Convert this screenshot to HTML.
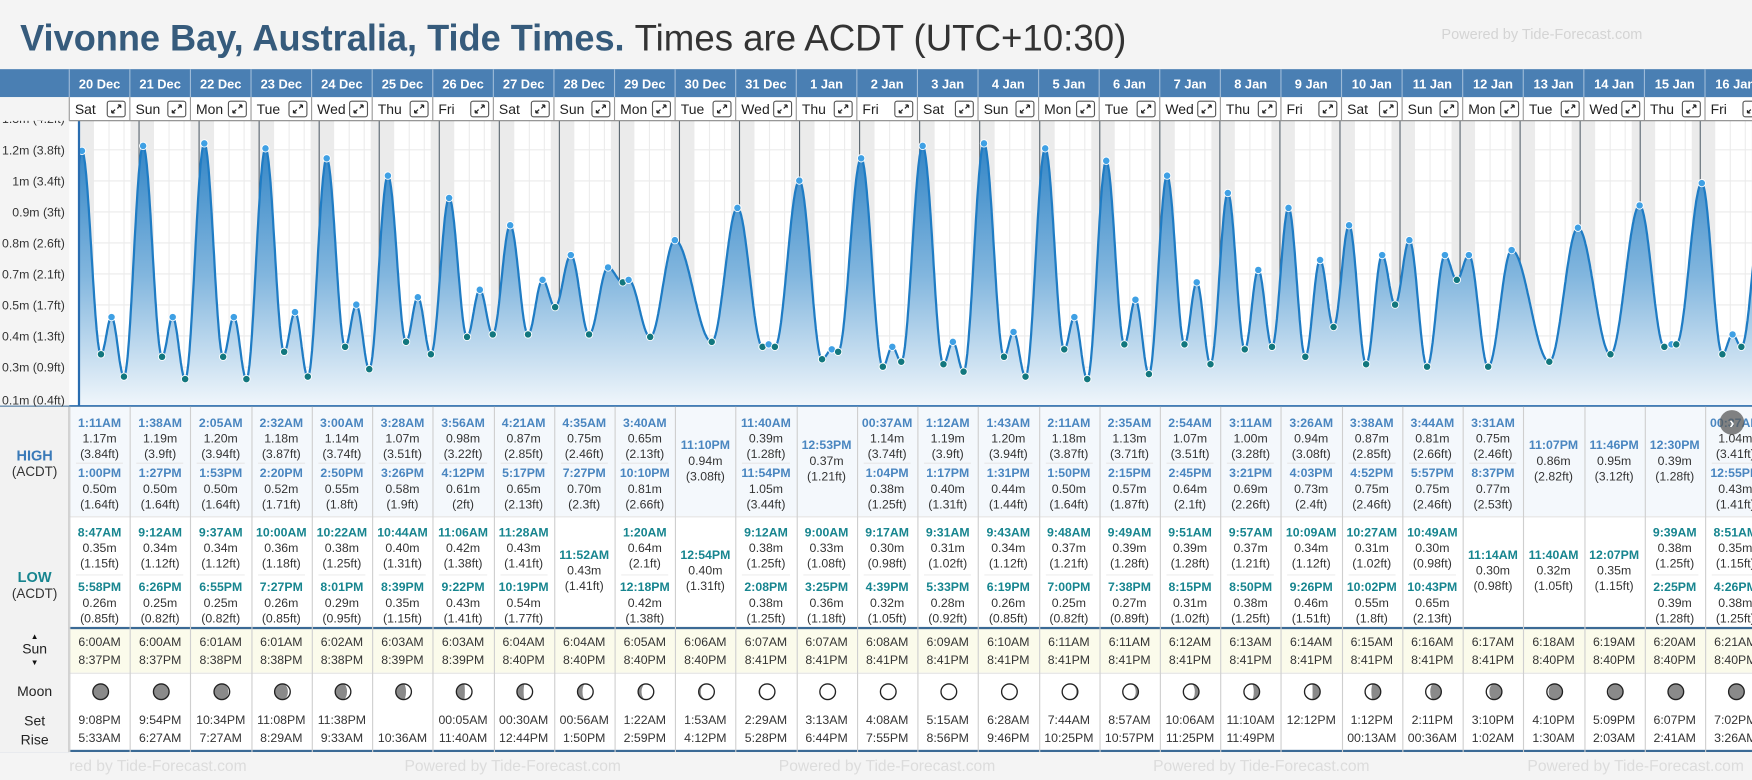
<!DOCTYPE html>
<html><head><meta charset="utf-8">
<style>
html,body{margin:0;padding:0;background:#f4f4f4;overflow:hidden;width:1752px;height:780px}
#root{position:absolute;left:0;top:0;width:1568px;height:698px;transform:scale(1.11735,1.1175);transform-origin:0 0;font-family:"Liberation Sans",sans-serif;color:#333;overflow:hidden;background:#f4f4f4}
.abs{position:absolute}
</style></head>
<body>
<div id="root">
<svg class="abs" style="left:0;top:0" width="1100" height="60">
<text x="18" y="45" font-family="Liberation Sans, sans-serif" font-weight="bold" font-size="33" fill="#365b7c" textLength="541" lengthAdjust="spacingAndGlyphs">Vivonne Bay, Australia, Tide Times.</text>
<text x="568" y="45" font-family="Liberation Sans, sans-serif" font-size="33" fill="#333" textLength="440" lengthAdjust="spacingAndGlyphs">Times are ACDT (UTC+10:30)</text>
</svg>
<div class="abs" style="left:1290px;top:23px;font-size:13px;color:#d4d4d4">Powered by Tide-Forecast.com</div>
<div class="abs" style="left:0;top:62px;width:1568px;height:25px;background:#4a7fb3"></div>
<div class="abs" style="left:0;top:87px;width:1568px;height:21px;background:#fff;border-bottom:1px solid #999;box-sizing:border-box"></div>
<div class="abs" style="left:0;top:87px;width:62px;height:277px;background:#f4f4f4"></div>
<svg id="chart" class="abs" style="left:0;top:0" width="1568" height="366"></svg>
<div id="table" class="abs" style="left:0;top:364px;width:1568px;height:334px"></div>
</div>
<script>
const dates=["20 Dec","21 Dec","22 Dec","23 Dec","24 Dec","25 Dec","26 Dec","27 Dec","28 Dec","29 Dec","30 Dec","31 Dec","1 Jan","2 Jan","3 Jan","4 Jan","5 Jan","6 Jan","7 Jan","8 Jan","9 Jan","10 Jan","11 Jan","12 Jan","13 Jan","14 Jan","15 Jan","16 Jan"];
const dayNames=["Sat","Sun","Mon","Tue","Wed","Thu","Fri"];
const highTimes=[["1:11AM","1:00PM"],["1:38AM","1:27PM"],["2:05AM","1:53PM"],["2:32AM","2:20PM"],["3:00AM","2:50PM"],["3:28AM","3:26PM"],["3:56AM","4:12PM"],["4:21AM","5:17PM"],["4:35AM","7:27PM"],["3:40AM","10:10PM"],["11:10PM"],["11:40AM","11:54PM"],["12:53PM"],["00:37AM","1:04PM"],["1:12AM","1:17PM"],["1:43AM","1:31PM"],["2:11AM","1:50PM"],["2:35AM","2:15PM"],["2:54AM","2:45PM"],["3:11AM","3:21PM"],["3:26AM","4:03PM"],["3:38AM","4:52PM"],["3:44AM","5:57PM"],["3:31AM","8:37PM"],["11:07PM"],["11:46PM"],["12:30PM"],["00:37AM","12:55PM"]];
const highHeights=[[1.17,0.50],[1.19,0.50],[1.20,0.50],[1.18,0.52],[1.14,0.55],[1.07,0.58],[0.98,0.61],[0.87,0.65],[0.75,0.70],[0.65,0.81],[0.94],[0.39,1.05],[0.37],[1.14,0.38],[1.19,0.40],[1.20,0.44],[1.18,0.50],[1.13,0.57],[1.07,0.64],[1.00,0.69],[0.94,0.73],[0.87,0.75],[0.81,0.75],[0.75,0.77],[0.86],[0.95],[0.39],[1.04,0.43]];
const lowTimes=[["8:47AM","5:58PM"],["9:12AM","6:26PM"],["9:37AM","6:55PM"],["10:00AM","7:27PM"],["10:22AM","8:01PM"],["10:44AM","8:39PM"],["11:06AM","9:22PM"],["11:28AM","10:19PM"],["11:52AM"],["1:20AM","12:18PM"],["12:54PM"],["9:12AM","2:08PM"],["9:00AM","3:25PM"],["9:17AM","4:39PM"],["9:31AM","5:33PM"],["9:43AM","6:19PM"],["9:48AM","7:00PM"],["9:49AM","7:38PM"],["9:51AM","8:15PM"],["9:57AM","8:50PM"],["10:09AM","9:26PM"],["10:27AM","10:02PM"],["10:49AM","10:43PM"],["11:14AM"],["11:40AM"],["12:07PM"],["9:39AM","2:25PM"],["8:51AM","4:26PM"]];
const lowHeights=[[0.35,0.26],[0.34,0.25],[0.34,0.25],[0.36,0.26],[0.38,0.29],[0.40,0.35],[0.42,0.43],[0.43,0.54],[0.43],[0.64,0.42],[0.40],[0.38,0.38],[0.33,0.36],[0.30,0.32],[0.31,0.28],[0.34,0.26],[0.37,0.25],[0.39,0.27],[0.39,0.31],[0.37,0.38],[0.34,0.46],[0.31,0.55],[0.30,0.65],[0.30],[0.32],[0.35],[0.38,0.39],[0.35,0.38]];
const sunRise=["6:00AM","6:00AM","6:01AM","6:01AM","6:02AM","6:03AM","6:03AM","6:04AM","6:04AM","6:05AM","6:06AM","6:07AM","6:07AM","6:08AM","6:09AM","6:10AM","6:11AM","6:11AM","6:12AM","6:13AM","6:14AM","6:15AM","6:16AM","6:17AM","6:18AM","6:19AM","6:20AM","6:21AM"];
const sunSet=["8:37PM","8:37PM","8:38PM","8:38PM","8:38PM","8:39PM","8:39PM","8:40PM","8:40PM","8:40PM","8:40PM","8:41PM","8:41PM","8:41PM","8:41PM","8:41PM","8:41PM","8:41PM","8:41PM","8:41PM","8:41PM","8:41PM","8:41PM","8:41PM","8:40PM","8:40PM","8:40PM","8:40PM"];
const moonSet=["9:08PM","9:54PM","10:34PM","11:08PM","11:38PM","","00:05AM","00:30AM","00:56AM","1:22AM","1:53AM","2:29AM","3:13AM","4:08AM","5:15AM","6:28AM","7:44AM","8:57AM","10:06AM","11:10AM","12:12PM","1:12PM","2:11PM","3:10PM","4:10PM","5:09PM","6:07PM","7:02PM"];
const moonRise=["5:33AM","6:27AM","7:27AM","8:29AM","9:33AM","10:36AM","11:40AM","12:44PM","1:50PM","2:59PM","4:12PM","5:28PM","6:44PM","7:55PM","8:56PM","9:46PM","10:25PM","10:57PM","11:25PM","11:49PM","","00:13AM","00:36AM","1:02AM","1:30AM","2:03AM","2:41AM","3:26AM"];
const moonAge=[0,1,2,3,4,5,6,7,8,9,10,11,12,13,14,15,16,17,18,19,20,21,22,23,24,25,26,27];
const tickValues=[1.30,1.174,1.049,0.924,0.799,0.674,0.549,0.424,0.298,0.166];
const tickLabels=["1.3m (4.2ft)","1.2m (3.8ft)","1m (3.4ft)","0.9m (3ft)","0.8m (2.6ft)","0.7m (2.1ft)","0.5m (1.7ft)","0.4m (1.3ft)","0.3m (0.9ft)","0.1m (0.4ft)"];
const edgeEvents=[{t:-6.5,h:0.27},{t:27*24+25,h:0.95}];

const NS="http://www.w3.org/2000/svg";
const COLW=54.22, COL0=62, DAYW=53.74, MID0=70.7, TOP=108, BOT=363;
function xT(t){return MID0+t*DAYW/24;}
function yH(m){return 135+(1.17-m)*222;}
function parseT(s){const m=s.match(/(\d+):(\d+)(AM|PM)/);let h=+m[1]%12;if(m[3]=="PM")h+=12;return h+(+m[2])/60;}
function ft(m){return Number((m*3.28084).toFixed(2));}
function mk(tag,attrs,parent){const e=document.createElementNS(NS,tag);for(const k in attrs)e.setAttribute(k,attrs[k]);parent.appendChild(e);return e;}

const svg=document.getElementById('chart');
const defs=mk('defs',{},svg);
const cp=mk('clipPath',{id:'cc'},defs);mk('rect',{x:70.7,y:TOP,width:1500,height:BOT-TOP},cp);
const lg=mk('linearGradient',{id:'fg',x1:0,y1:130,x2:0,y2:BOT,gradientUnits:'userSpaceOnUse'},defs);
mk('stop',{offset:'0','stop-color':'#3486c6'},lg);
mk('stop',{offset:'0.5','stop-color':'#82b6de'},lg);
mk('stop',{offset:'1','stop-color':'#f0f6fb'},lg);
const bg=mk('rect',{x:62,y:TOP,width:1506,height:BOT-TOP,fill:'#fff'},svg);

const g=mk('g',{'clip-path':'url(#cc)'},svg);
for(let d=0;d<29;d++){
  const xm=xT(d*24);
  const band=mk('rect',{x:xm-7.6,y:TOP,width:7.6+13.4,height:BOT-TOP,fill:'#ebebeb'},g);
  
  
  for(const hh of [12,18]){mk('line',{x1:xT(d*24+hh),x2:xT(d*24+hh),y1:TOP,y2:BOT,stroke:'#ececec','stroke-width':1},g);}
}
tickValues.forEach((v,i)=>{
  mk('line',{x1:62,x2:1568,y1:yH(v),y2:yH(v),stroke:'#ebebeb','stroke-width':1},g);
});
for(let d=0;d<29;d++){
  const xm=xT(d*24);
  const ml=mk('line',{x1:xm,x2:xm,y1:TOP,y2:BOT,stroke:'#5a6670','stroke-width':1},g);
  
  
}
let ev=[];
dates.forEach((d,i)=>{
  highTimes[i].forEach((s,j)=>ev.push({t:i*24+parseT(s),h:highHeights[i][j],hi:true}));
  lowTimes[i].forEach((s,j)=>ev.push({t:i*24+parseT(s),h:lowHeights[i][j],hi:false}));
});
ev.sort((a,b)=>a.t-b.t);
const all=[edgeEvents[0]].concat(ev,[edgeEvents[1]]);
let pts=[];
for(let k=0;k<all.length-1;k++){
  const a=all[k],b=all[k+1];const n=Math.max(4,Math.ceil((b.t-a.t)*4));
  for(let s=0;s<n;s++){const f=s/n;const h=a.h+(b.h-a.h)*(1-Math.cos(Math.PI*f))/2;pts.push([xT(a.t+(b.t-a.t)*f),yH(h)]);}
}
const last=all[all.length-1];pts.push([xT(last.t),yH(last.h)]);
const dLine='M'+pts.map(p=>p[0].toFixed(1)+','+p[1].toFixed(1)).join('L');
const area=mk('path',{d:dLine+'L'+pts[pts.length-1][0].toFixed(1)+','+BOT+'L'+pts[0][0].toFixed(1)+','+BOT+'Z',fill:'url(#fg)'},g);


const line=mk('path',{d:dLine,fill:'none',stroke:'#1f7cc4','stroke-width':2},g);


ev.forEach(e=>{
  const c=mk('circle',{cx:xT(e.t),cy:yH(e.h),r:3.3,fill:e.hi?'#3fa0e4':'#12777e',stroke:'#fff','stroke-width':0.8},g);
  
  
});
const ax=mk('line',{x1:70.7,x2:70.7,y1:TOP,y2:BOT,stroke:'#2a6db0','stroke-width':2},svg);


const bx=mk('line',{x1:0,x2:1568,y1:364,y2:364,stroke:'#3b6a95','stroke-width':2},svg);


mk('line',{x1:62,x2:1568,y1:363,y2:363,stroke:'#2a6db0','stroke-width':1},svg);
tickValues.forEach((v,i)=>{
  const t=mk('text',{x:58,y:yH(v)+4,'text-anchor':'end','font-size':11,fill:'#333','font-family':'Liberation Sans, sans-serif'},svg);
  t.textContent=tickLabels[i];
  
  
});
const hg=mk('g',{},svg);
mk('rect',{x:0,y:62,width:1568,height:25,fill:'#4a7fb3'},hg);
mk('rect',{x:0,y:87,width:1568,height:21,fill:'#fff'},hg);
mk('rect',{x:0,y:87,width:62,height:21,fill:'#f4f4f4'},hg);
mk('line',{x1:62,x2:1568,y1:108,y2:108,stroke:'#888','stroke-width':1},hg);
dates.forEach((d,i)=>{
  const x=COL0+i*COLW;
  mk('line',{x1:x,x2:x,y1:62,y2:87,stroke:'#9ebbd8','stroke-width':1},hg);
  mk('line',{x1:x,x2:x,y1:87,y2:108,stroke:'#999','stroke-width':1},hg);
  const t=mk('text',{x:x+COLW/2,y:79,'text-anchor':'middle','font-size':11.5,'font-weight':'bold',fill:'#fff','font-family':'Liberation Sans, sans-serif'},hg);
  t.textContent=d;
  
  
  const dn=mk('text',{x:x+5,y:102,'font-size':12.5,fill:'#222','font-family':'Liberation Sans, sans-serif'},hg);
  dn.textContent=dayNames[i%7];
  
  
  const bgp=mk('g',{},hg);
  
  
  mk('rect',{x:x+34,y:90.5,width:16,height:14,rx:2,fill:'#fff',stroke:'#555','stroke-width':1},bgp);
  mk('path',{d:`M${x+38},${101} l3,-3 M${x+38},${101} h2.5 M${x+38},${101} v-2.5 M${x+46},${94} l-3,3 M${x+46},${94} h-2.5 M${x+46},${94} v2.5`,stroke:'#222','stroke-width':1.1,fill:'none'},bgp);
});

const tb=document.getElementById('table');
function div(css,parent,txt){const e=document.createElement('div');e.style.cssText=css;if(txt!==undefined)e.textContent=txt;parent.appendChild(e);return e;}
const hiSec=div('position:absolute;left:0;top:0;width:1568px;height:98px;background:#f4f8fc',tb);


const loSec=div('position:absolute;left:0;top:98px;width:1568px;height:99px;background:#fff;border-top:1px solid #e4e4e4',tb);


const sunSec=div('position:absolute;left:0;top:197px;width:1568px;height:41px;background:#fbfbeb;border-top:2px solid #3b6a95;box-sizing:border-box',tb);


const moonSec=div('position:absolute;left:0;top:238px;width:1568px;height:71px;background:#fff;border-top:1px solid #e4e4e4;border-bottom:2px solid #3b6a95;box-sizing:border-box',tb);


const lab=div('position:absolute;left:0;top:0;width:62px;height:309px;background:#f2f2f2;border-right:1px solid #ccc;box-sizing:border-box',tb);


function labText(y,txt,css,name){const e=div('position:absolute;left:0;width:62px;text-align:center;top:'+y+'px;'+css,lab,txt);return e;}
labText(36,'HIGH','font-weight:bold;color:#3a7ab8;font-size:13px','high-label');
labText(51,'(ACDT)','font-size:12px;color:#333','high-tz-label');
labText(145,'LOW','font-weight:bold;color:#17858f;font-size:13px','low-label');
labText(160,'(ACDT)','font-size:12px;color:#333','low-tz-label');
labText(203,'▲','font-size:7px;color:#111','sun-up-arrow');
labText(210,'Sun','font-size:12.5px;color:#222','sun-label');
labText(226,'▼','font-size:7px;color:#111','sun-down-arrow');
labText(248,'Moon','font-size:12.5px;color:#222','moon-label');
labText(274,'Set','font-size:12.5px;color:#222','moonset-label');
labText(291,'Rise','font-size:12.5px;color:#222','moonrise-label');

function entry(x,cy,time,m,color,name){
  const w=div('position:absolute;left:'+x+'px;top:'+(cy-21)+'px;width:'+COLW+'px;height:42px',tb);
  
  
  div('position:absolute;left:0;width:100%;top:0;text-align:center;font-size:11px;font-weight:bold;color:'+color+';line-height:14px;white-space:nowrap',w,time);
  div('position:absolute;left:0;width:100%;top:14px;text-align:center;font-size:11px;color:#333;line-height:14px;white-space:nowrap',w,m.toFixed(2)+'m');
  div('position:absolute;left:0;width:100%;top:28px;text-align:center;font-size:11px;color:#333;line-height:14px;white-space:nowrap',w,'('+ft(m)+'ft)');
}
const moonSvg=document.createElementNS(NS,'svg');
moonSvg.setAttribute('width','1568');moonSvg.setAttribute('height','30');
moonSvg.style.cssText='position:absolute;left:0;top:240px';
tb.appendChild(moonSvg);
dates.forEach((d,i)=>{
  const x=COL0+i*COLW;
  const sep=div('position:absolute;left:'+x+'px;top:0;width:1px;height:309px;background:#cfcfcf',tb);
  
  
  const H=highTimes[i];
  if(H.length==2){entry(x,29,H[0],highHeights[i][0],'#4a86c0','high-tide-entry');entry(x,74,H[1],highHeights[i][1],'#4a86c0','high-tide-entry');
    div('position:absolute;left:'+(x+6)+'px;top:50px;width:'+(COLW-12)+'px;height:1px;background:#e6e6e6',tb);}
  else entry(x,49,H[0],highHeights[i][0],'#4a86c0','high-tide-entry');
  const L=lowTimes[i];
  if(L.length==2){entry(x,127,L[0],lowHeights[i][0],'#17858f','low-tide-entry');entry(x,176,L[1],lowHeights[i][1],'#17858f','low-tide-entry');
    div('position:absolute;left:'+(x+6)+'px;top:150px;width:'+(COLW-12)+'px;height:1px;background:#ececec',tb);}
  else entry(x,147,L[0],lowHeights[i][0],'#17858f','low-tide-entry');
  const sr=div('position:absolute;left:'+x+'px;top:204px;width:'+COLW+'px;text-align:center;font-size:11px;line-height:14px;color:#333',tb,sunRise[i]);
  
  
  const ss=div('position:absolute;left:'+x+'px;top:220px;width:'+COLW+'px;text-align:center;font-size:11px;line-height:14px;color:#333',tb,sunSet[i]);
  
  
  const ms=div('position:absolute;left:'+x+'px;top:274px;width:'+COLW+'px;text-align:center;font-size:11px;line-height:14px;color:#333',tb,moonSet[i]);
  
  
  const mr=div('position:absolute;left:'+x+'px;top:290px;width:'+COLW+'px;text-align:center;font-size:11px;line-height:14px;color:#333',tb,moonRise[i]);
  
  
  const cx=x+COLW/2+1, cy=15, r=7;
  const mg=document.createElementNS(NS,'g');moonSvg.appendChild(mg);
  
  
  mk('circle',{cx:cx,cy:cy,r:r,fill:'#8a8a8a'},mg);
  const p=((moonAge[i]+0.5)/27.5)%1, f=(1-Math.cos(2*Math.PI*p))/2, rx=Math.abs(1-2*f)*r;
  let dd;
  if(p<0.5){dd=`M${cx},${cy-r}A${r},${r} 0 0 1 ${cx},${cy+r}A${rx},${r} 0 0 ${f<0.5?0:1} ${cx},${cy-r}Z`;}
  else{dd=`M${cx},${cy-r}A${r},${r} 0 0 0 ${cx},${cy+r}A${rx},${r} 0 0 ${f<0.5?1:0} ${cx},${cy-r}Z`;}
  mk('path',{d:dd,fill:'#fff'},mg);
  mk('circle',{cx:cx,cy:cy,r:r,fill:'none',stroke:'#222','stroke-width':1.2},mg);
});
const foot=div('position:absolute;left:62px;top:309px;width:1506px;height:25px;overflow:hidden;background:#f4f4f4',tb);


for(let k=0;k<6;k++){div('position:absolute;top:4px;left:'+(-35+k*335)+'px;font-size:14px;color:#dcdcdc;white-space:nowrap',foot,'Powered by Tide-Forecast.com');}
const nb=div('position:absolute;left:1539px;top:3px;width:22px;height:22px;border-radius:11px;background:rgba(90,90,90,0.75);color:#fff;font-size:14px;line-height:22px;text-align:center;font-weight:bold',tb,'›');


</script>
</body></html>
